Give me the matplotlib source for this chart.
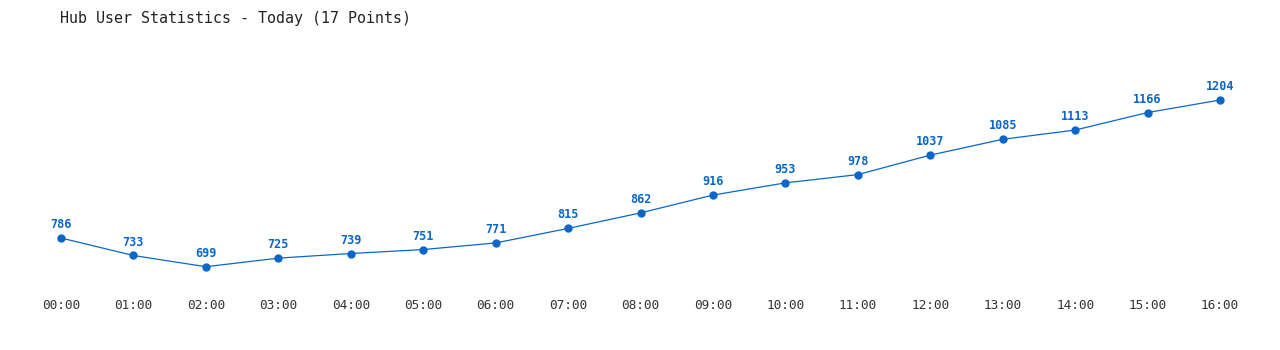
import matplotlib
matplotlib.use("Agg")
import matplotlib.pyplot as plt

hours = ["00:00", "01:00", "02:00", "03:00", "04:00", "05:00", "06:00", "07:00", "08:00",
         "09:00", "10:00", "11:00", "12:00", "13:00", "14:00", "15:00", "16:00"]
users = [786, 733, 699, 725, 739, 751, 771, 815, 862, 916, 953, 978, 1037, 1085, 1113, 1166, 1204]

blue = "#0a66c8"
x = list(range(len(hours)))

fig = plt.figure(figsize=(12.8, 3.5), dpi=100)
ax = fig.add_axes([0, 65 / 350, 1, 245 / 350])

ax.plot(x, users, color=blue, linewidth=0.9, marker="o", markersize=5)
for i, v in enumerate(users):
    ax.annotate(str(v), (i, v), xytext=(0, 5), textcoords="offset points",
                ha="center", va="bottom", color=blue, fontsize=8.5,
                fontweight="bold", family="DejaVu Sans Mono")

ax.set_xlim(-0.842, 16.828)
ax.set_ylim(643.6, 1385.8)
ax.set_xticks(x)
ax.set_xticklabels(hours, family="DejaVu Sans Mono", fontsize=9.2, color="#333333")
ax.tick_params(axis="x", length=0, pad=10)
ax.set_yticks([])
for s in ax.spines.values():
    s.set_visible(False)

fig.text(60 / 1280, 1 - 18 / 350, "Hub User Statistics - Today (17 Points)",
         family="DejaVu Sans Mono", fontsize=10.8, color="#222222", va="center", ha="left")

fig.savefig("out.png", dpi=100, facecolor="white")
